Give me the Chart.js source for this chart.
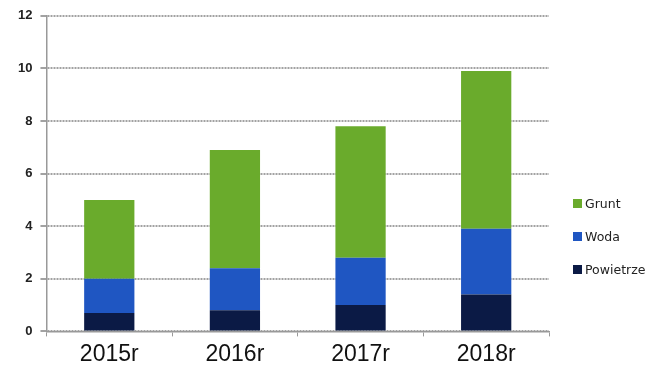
<!DOCTYPE html>
<html>
<head>
<meta charset="utf-8">
<script src="https://cdn.jsdelivr.net/npm/chart.js@4.4.1/dist/chart.umd.min.js"></script>
<style>
  html, body { margin: 0; padding: 0; background: #fff; }
  #wrap { position: relative; width: 650px; height: 379px; }
  #legend { position: absolute; left: 573px; top: 195px; font-family: "DejaVu Sans", Verdana, sans-serif; font-size: 12.5px; color: #222; }
  #legend div { display: flex; align-items: center; height: 17px; margin-bottom: 16px; }
  #legend span.box { display: inline-block; width: 9px; height: 9px; margin-right: 3px; }
</style>
</head>
<body>
<div id="wrap">
  <canvas id="c" width="650" height="379"></canvas>
  <div id="legend"></div>
</div>
<script>
const categories = ["2015r", "2016r", "2017r", "2018r"];
const powietrze = [0.7, 0.8, 1.0, 1.4];
const woda = [1.3, 1.6, 1.8, 2.5];
const grunt = [3.0, 4.5, 5.0, 6.0];
const seriesNames = ["Powietrze", "Woda", "Grunt"];
const colors = ["#0b1a45", "#1f56c2", "#6aab2c"];

const datasets = [powietrze, woda, grunt].map((d, i) => ({
  label: seriesNames[i],
  data: d,
  backgroundColor: colors[i],
  borderWidth: 0,
  categoryPercentage: 1.0,
  barPercentage: 0.4
}));

const chart = new Chart(document.getElementById('c'), {
  type: 'bar',
  data: { labels: categories, datasets },
  options: {
    responsive: false,
    animation: false,
    layout: { padding: { left: 10, right: 101, top: 15, bottom: 7 } },
    plugins: { legend: { display: false }, tooltip: { enabled: false } },
    scales: {
      x: {
        stacked: true,
        offset: true,
        grid: { display: true, drawOnChartArea: false, offset: true, tickLength: 5, color: '#999' },
        border: { color: '#999', width: 1.5 },
        ticks: { color: '#111', font: { family: 'Liberation Sans, Arial, sans-serif', size: 23 }, padding: 4 }
      },
      y: {
        stacked: true,
        min: 0, max: 12,
        ticks: { stepSize: 2, color: '#222', font: { family: 'Liberation Sans, Arial, sans-serif', size: 13, weight: 'bold' }, padding: 8 },
        grid: { color: '#a2a2a2', lineWidth: 2, tickLength: 6 },
        border: { color: '#999', width: 1.5, dash: [2, 1] }
      }
    }
  }
});

const leg = document.getElementById('legend');
[2, 1, 0].forEach(i => {
  const row = document.createElement('div');
  const b = document.createElement('span');
  b.className = 'box';
  b.style.background = colors[i];
  row.appendChild(b);
  row.appendChild(document.createTextNode(seriesNames[i]));
  leg.appendChild(row);
});
</script>
</body>
</html>
